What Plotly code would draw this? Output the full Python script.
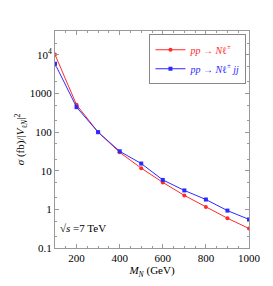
import plotly.graph_objects as go

mass = [100, 200, 300, 400, 500, 600, 700, 800, 900, 1000]
sigma_nl = [10200, 510, 100, 30, 11.7, 5.0, 2.3, 1.15, 0.59, 0.32]
sigma_nljj = [5900, 445, 100, 32, 15.4, 5.8, 3.1, 1.8, 0.93, 0.55]
ytick_vals = [0.1, 1, 10, 100, 1000, 10000]
ytick_text = ["0.1", "1", "10", "100", "1000", "10<sup>4</sup>"]
xtick_vals = [200, 400, 600, 800, 1000]

FONT = "Liberation Serif"
RED = "#ff2a2a"
BLUE = "#2a2aff"

fig = go.Figure()
fig.add_trace(go.Scatter(
    x=mass, y=sigma_nl, mode="lines+markers",
    name="<span style='color:%s'><i>pp</i> → <i>N</i>ℓ<sup>±</sup></span>" % RED,
    line=dict(color=RED, width=1), marker=dict(color=RED, size=4, symbol="circle")))
fig.add_trace(go.Scatter(
    x=mass, y=sigma_nljj, mode="lines+markers",
    name="<span style='color:%s'><i>pp</i> → <i>N</i>ℓ<sup>±</sup> <i>jj</i></span>" % BLUE,
    line=dict(color=BLUE, width=1), marker=dict(color=BLUE, size=4, symbol="square")))

fig.add_annotation(x=0.015, y=0.09, xref="paper", yref="paper", xanchor="left", yanchor="middle",
                   text="√<i>s</i> =7 TeV", showarrow=False, font=dict(family=FONT, size=11, color="black"))

fig.update_layout(
    width=265, height=278,
    margin=dict(l=43, r=13, t=23, b=36),
    paper_bgcolor="white", plot_bgcolor="white",
    font=dict(family=FONT, size=11, color="black"),
    showlegend=True,
    legend=dict(x=0.487, y=0.985, xanchor="left", yanchor="top",
                bgcolor="white", bordercolor="#888888", borderwidth=1,
                font=dict(family=FONT, size=10), itemwidth=30,
                tracegroupgap=0),
    xaxis=dict(range=[100, 1000], tickvals=xtick_vals, ticks="inside", ticklen=4,
               showline=True, linecolor="#999999", mirror="ticks", showgrid=False, zeroline=False,
               minor=dict(dtick=50, ticks="inside", ticklen=2, tickcolor="#999999"),
               tickcolor="#999999", tickfont=dict(family=FONT, size=11),
               title=dict(text="<i>M<sub>N</sub></i> (GeV)", font=dict(family=FONT, size=11), standoff=2)),
    yaxis=dict(type="log", range=[-1, 4.62], tickvals=ytick_vals, ticktext=ytick_text,
               ticks="inside", ticklen=4, tickcolor="#999999", tickfont=dict(family=FONT, size=11),
               showline=True, linecolor="#999999", mirror="ticks", showgrid=False, zeroline=False,
               minor=dict(ticks="inside", ticklen=2, tickcolor="#999999", showgrid=False),
               title=dict(text="<i>σ</i> (fb)/|<i>V</i><sub>ℓ<i>N</i></sub>|<sup>2</sup>",
                          font=dict(family=FONT, size=11), standoff=2)),
)

fig.write_html("out.html")
